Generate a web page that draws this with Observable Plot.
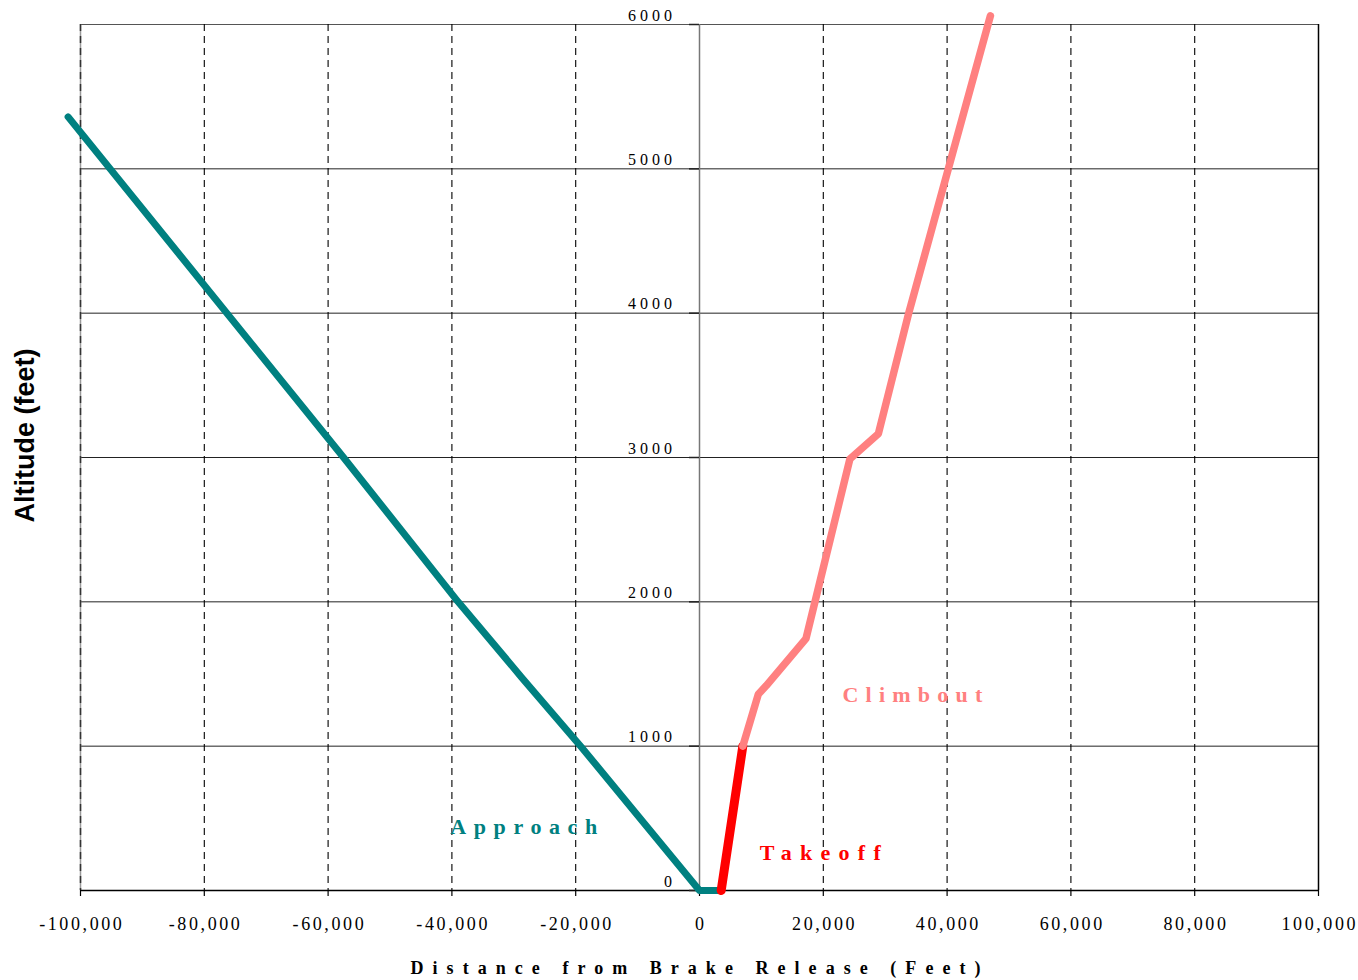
<!DOCTYPE html>
<html>
<head>
<meta charset="utf-8">
<script src="https://cdn.jsdelivr.net/npm/d3@7"></script>
<script src="https://cdn.jsdelivr.net/npm/@observablehq/plot@0.6"></script>
<style>
  html, body { margin: 0; padding: 0; background: #fff; }
  #chart svg { display: block; }
</style>
</head>
<body>
<div id="chart"></div>
<script>
// Flight profile: distance from brake release (ft) vs altitude (ft)
const xTicks = [-100000, -80000, -60000, -40000, -20000, 0, 20000, 40000, 60000, 80000, 100000];
const altTicks = [0, 1000, 2000, 3000, 4000, 5000, 6000];

const approachDist = [-102000, -57500, -39000, -28800, -19200, 0, 3500];
const approachAlt  = [5360, 3000, 2000, 1480, 1000, 0, 0];

const takeoffDist = [3500, 7000];
const takeoffAlt  = [0, 1000];

const climbDist = [7000, 9500, 10800, 17200, 24300, 28900, 33800, 40200, 47000];
const climbAlt  = [1000, 1360, 1420, 1745, 2990, 3165, 4000, 5000, 6060];

const phaseNames  = ["Approach", "Takeoff", "Climbout"];
const phaseColors = ["#008080", "#ff0000", "#ff8080"];
const phaseLabelDist = [-28400, 19500, 34400];
const phaseLabelAlt  = [437, 263, 1358];

const xTitle = "Distance from Brake Release (Feet)";
const yTitle = "Altitude (feet)";

const toPoints = (xs, ys) => xs.map((x, i) => ({x, y: ys[i]}));
const approach = toPoints(approachDist, approachAlt);
const takeoff = toPoints(takeoffDist, takeoffAlt);
const climb = toPoints(climbDist, climbAlt);
const phaseLabels = phaseNames.map((name, i) => ({name, color: phaseColors[i], x: phaseLabelDist[i], y: phaseLabelAlt[i]}));

const serif = "'Liberation Serif', 'Times New Roman', serif";
const sans = "'Liberation Sans', Arial, sans-serif";
const fmt = d => d.toLocaleString("en-US");

const dashed = xTicks.filter(d => d !== 0 && Math.abs(d) !== 100000);
const innerAlt = altTicks.filter(d => d > 0 && d < 6000);

const chart = Plot.plot({
  width: 1358,
  height: 980,
  marginTop: 24,
  marginRight: 40,
  marginBottom: 90,
  marginLeft: 80,
  x: {domain: [-100000, 100000], axis: null},
  y: {domain: [0, 6000], axis: null},
  style: {background: "#fff", overflow: "visible"},
  marks: [
    // grid and frame
    Plot.ruleY(innerAlt, {stroke: "#222", strokeWidth: 1}),
    Plot.ruleY([6000], {stroke: "#555", strokeWidth: 1.2}),
    Plot.ruleX(dashed, {stroke: "#000", strokeWidth: 1.1, strokeDasharray: "7,5"}),
    Plot.ruleX([-100000], {stroke: "#999", strokeWidth: 1.5}),
    Plot.ruleX([-100000], {stroke: "#333", strokeWidth: 1.5, strokeDasharray: "7,5"}),
    Plot.ruleX([100000], {stroke: "#000", strokeWidth: 1.5}),
    Plot.ruleX([0], {stroke: "#777", strokeWidth: 1.5}),
    Plot.ruleY([0], {stroke: "#000", strokeWidth: 1.5}),
    // tick marks
    Plot.ruleX(xTicks, {x: d => d, y1: () => 0, y2: () => 0, insetBottom: -6, stroke: "#000", strokeWidth: 1.2}),
    Plot.ruleY(altTicks, {y: d => d, x1: () => 0, x2: () => 0, insetLeft: -10, stroke: "#222", strokeWidth: 1.5}),
    // tick labels
    Plot.text(xTicks, {x: d => d, y: () => 0, text: fmt, dy: 34, fontSize: 18, fontFamily: serif, fill: "#000", ariaLabel: "x tick label"}),
    Plot.text(altTicks, {x: () => 0, y: d => d, text: d => String(d), textAnchor: "end", dx: -27.5, dy: -9, fontSize: 16, fontFamily: serif, fill: "#000", ariaLabel: "y tick label"}),
    // flight phases
    Plot.line(approach, {x: "x", y: "y", stroke: phaseColors[0], strokeWidth: 7, strokeLinejoin: "round"}),
    Plot.line(takeoff, {x: "x", y: "y", stroke: phaseColors[1], strokeWidth: 9, strokeLinecap: "round"}),
    Plot.line(climb, {x: "x", y: "y", stroke: phaseColors[2], strokeWidth: 7.5, strokeLinecap: "round", strokeLinejoin: "round"}),
    Plot.text(phaseLabels, {x: "x", y: "y", text: "name", fill: "color", fontSize: 22, fontWeight: "bold", fontFamily: serif, ariaLabel: "phase label"}),
    // axis titles
    Plot.text([xTitle], {frameAnchor: "bottom", lineAnchor: "middle", textAnchor: "middle", dy: 78, dx: -4, fontSize: 18, fontWeight: "bold", fontFamily: serif, fill: "#000", ariaLabel: "x title"}),
    Plot.text([yTitle], {frameAnchor: "left", textAnchor: "middle", lineAnchor: "middle", rotate: -90, dx: -55, dy: -22, fontSize: 27, fontWeight: "bold", fontFamily: sans, fill: "#000", ariaLabel: "y title"})
  ]
});

document.getElementById("chart").appendChild(chart);

// Widen the spacing between glyphs (typeset, letter-spaced look)
const xTickText = new Set(xTicks.map(fmt));
const spread = {
  [xTitle]: () => 570,
  "Approach": () => 147,
  "Takeoff": () => 121,
  "Climbout": () => 140
};
d3.select(chart).selectAll("text").each(function () {
  const t = this.textContent;
  const n = t.length;
  if (n < 2) return;
  const w = this.getComputedTextLength();
  const size = parseFloat(getComputedStyle(this).fontSize);
  let target = null;
  if (spread[t]) target = spread[t]();
  else if (size === 18 && xTickText.has(t)) target = w + 2.6 * (n - 1);
  else if (size === 16) target = w + 4 * (n - 1);
  if (target != null) {
    this.setAttribute("textLength", target);
    this.setAttribute("lengthAdjust", "spacing");
  }
});
</script>
</body>
</html>
